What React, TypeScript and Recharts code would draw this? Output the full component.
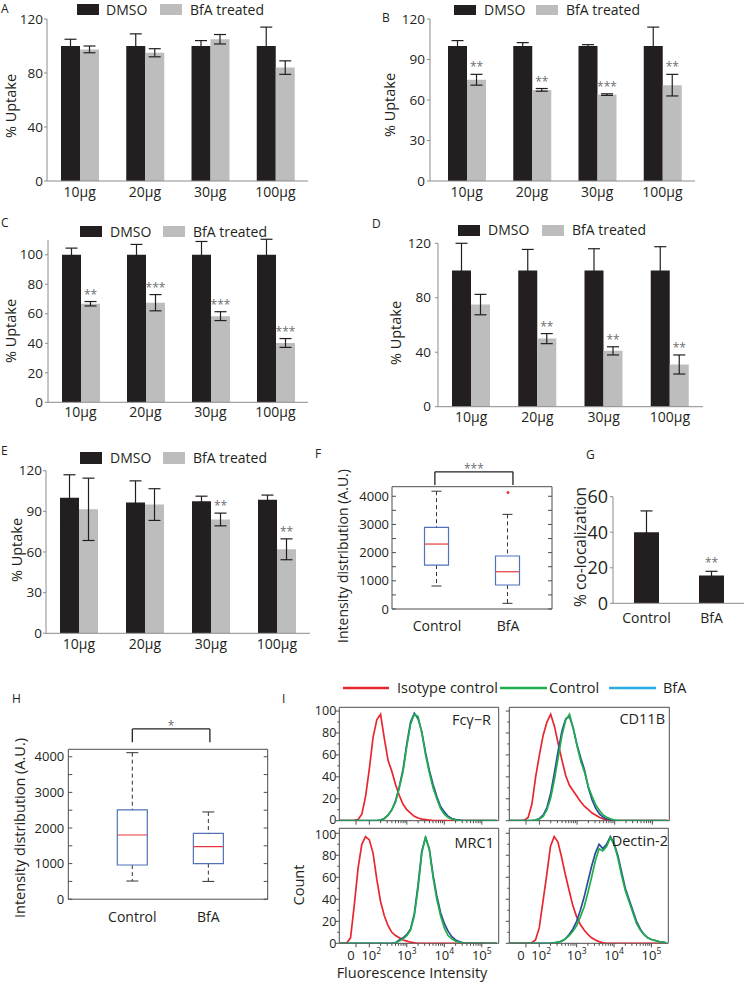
import React from "react";
import {
  BarChart, Bar, XAxis, YAxis, ErrorBar, LabelList, ComposedChart,
  LineChart, Line, ReferenceArea, ReferenceLine, ReferenceDot,
} from "recharts";

const FONT = "'Open Sans', 'Noto Sans', Arial, sans-serif";
const INK = "#231f20";
const AXIS = "#8c8c8c";
const FRAME = "#4d4d4d";
const DMSO_C = "#231f20";
const BFA_C = "#bdbdbd";
const STAR_C = "#6d6e71";
const BOX_C = "#4f72b8";
const MED_C = "#e8383d";
const ISO_C = "#e8262d";
const CTL_C = "#1fae4b";
const BFA_LINE = "#2c4b9b";
const BFA_LEG = "#29abe2";

// ---------- uptake bar panels ----------
const doseCats = ["10μg", "20μg", "30μg", "100μg"];

const aDmso = [100, 100, 100, 100];
const aDmsoErr = [5, 9, 4, 14];
const aBfa = [97.5, 95, 105, 84];
const aBfaErr = [2.5, 3, 3.5, 5];
const aStars = ["", "", "", ""];

const bDmso = [100, 100, 100, 100];
const bDmsoErr = [4, 2.5, 1, 14];
const bBfa = [75, 67.5, 64, 71];
const bBfaErr = [4, 1, 0.6, 8];
const bStars = ["**", "**", "***", "**"];

const cDmso = [100, 100, 100, 100];
const cDmsoErr = [4.5, 7, 9, 10.5];
const cBfa = [66.8, 67.5, 58.4, 40.2];
const cBfaErr = [1.5, 5.5, 3, 3];
const cStars = ["**", "***", "***", "***"];

const dDmso = [100, 100, 100, 100];
const dDmsoErr: any[] = [[25, 20], 15.5, 16, 17.5];
const dBfa = [75, 50, 41, 31];
const dBfaErr = [7.5, 3.7, 3, 7];
const dStars = ["", "**", "**", "**"];

const eDmso = [100, 96.5, 97.5, 98.5];
const eDmsoErr = [17, 16, 3.7, 3.5];
const eBfa = [91.5, 95, 84, 62];
const eBfaErr = [23, 11.7, 4.7, 7.7];
const eStars = ["", "", "**", "**"];

// ---------- panel G ----------
const gCats = ["Control", "BfA"];
const gVal = [40, 15.7];
const gErr = [12, 2.3];
const gStars = ["", "**"];

// ---------- box plots ----------
const boxNames = ["Control", "BfA"];
const boxPos = [1, 2];
const fMin = [816, 202];
const fQ1 = [1560, 851];
const fMed = [2305, 1323];
const fQ3 = [2897, 1880];
const fMax = [4180, 3358];
const fOutlier = [null, 4138];

const hMin = [510, 500];
const hQ1 = [960, 1000];
const hMed = [1803, 1475];
const hQ3 = [2506, 1850];
const hMax = [4115, 2450];
const hOutlier = [null, null];

const boxTicks = [0, 500, 1000, 1500, 2000, 2500, 3000, 3500, 4000];

// ---------- flow histograms ----------
const flowX = [1.2, 1.3, 1.4, 1.5, 1.6, 1.7, 1.8, 1.9, 2.0, 2.1, 2.2, 2.3, 2.4, 2.5, 2.6, 2.7, 2.8, 2.9, 3.0, 3.1, 3.2, 3.3, 3.4, 3.5, 3.6, 3.7, 3.8, 3.9, 4.0, 4.1, 4.2, 4.3, 4.4, 4.5, 4.6, 4.7, 4.8, 4.9, 5.0, 5.1, 5.2, 5.3, 5.4];

const fcIso = [0, 0, 0, 0, 0.3, 1, 6, 22, 47, 76, 92, 97, 75, 55, 45, 33, 23, 15, 10, 7, 4, 2.5, 1.5, 1, 0.5, 0, 0, 0, 0, 0, 0, 0, 0, 0, 0, 0, 0, 0, 0, 0, 0, 0, 0];
const fcCtl = [0, 0, 0, 0, 0, 0, 0, 0, 0, 0, 0, 0.5, 2, 5, 10, 17, 30, 45, 68, 88, 97, 95, 80, 60, 44, 30, 20, 11, 6, 3, 1.5, 0.5, 0, 0, 0, 0, 0, 0, 0, 0, 0, 0, 0];
const fcBfa = [0, 0, 0, 0, 0, 0, 0, 0, 0, 0, 0, 0.5, 2, 5, 10, 18, 31, 47, 70, 90, 98, 93, 81, 62, 46, 33, 22, 13, 8, 4, 2, 1, 0.5, 0, 0, 0, 0, 0, 0, 0, 0, 0, 0];

const cdIso = [0, 0, 0, 0, 0.5, 3, 15, 40, 60, 78, 90, 97, 86, 70, 55, 41, 32, 27, 22, 17, 13, 10, 7, 5, 3, 1.5, 0.5, 0, 0, 0, 0, 0, 0, 0, 0, 0, 0, 0, 0, 0, 0, 0, 0];
const cdCtl = [0, 0, 0, 0, 0, 0, 0, 0.5, 1.5, 4, 10, 21, 38, 58, 78, 92, 97, 84, 68, 54, 44, 31, 22, 14, 9, 5, 3, 1.5, 0.5, 0, 0, 0, 0, 0, 0, 0, 0, 0, 0, 0, 0, 0, 0];
const cdBfa = [0, 0, 0, 0, 0, 0, 0, 0.5, 2, 5, 12, 25, 44, 64, 82, 93, 95, 84, 69, 57, 46, 30, 19, 11, 6, 3, 1.5, 0.5, 0, 0, 0, 0, 0, 0, 0, 0, 0, 0, 0, 0, 0, 0, 0];

const mrIso = [0, 0, 0.5, 5, 35, 68, 90, 97, 94, 82, 58, 38, 25, 16, 10, 7, 5, 3, 2, 1, 0.5, 0, 0, 0, 0, 0, 0, 0, 0, 0, 0, 0, 0, 0, 0, 0, 0, 0, 0, 0, 0, 0, 0];
const mrCtl = [0, 0, 0, 0, 0, 0, 0, 0, 0, 0, 0, 0, 0, 0, 0, 0.5, 2, 4, 7, 12, 25, 50, 82, 97, 85, 60, 40, 25, 14, 7, 4, 2, 1, 0, 0, 0, 0, 0, 0, 0, 0, 0, 0];
const mrBfa = [0, 0, 0, 0, 0, 0, 0, 0, 0, 0, 0, 0, 0, 0, 0, 0.5, 3, 5, 8, 13, 27, 53, 84, 96, 86, 62, 43, 28, 18, 11, 6, 3, 1.5, 0.5, 0, 0, 0, 0, 0, 0, 0, 0, 0];

const deIso = [0, 0, 0, 0, 0, 0, 0.5, 3, 14, 38, 62, 88, 97, 92, 78, 62, 48, 34, 24, 17, 12, 8, 5, 3, 1.5, 0.5, 0, 0, 0, 0, 0, 0, 0, 0, 0, 0, 0, 0, 0, 0, 0, 0, 0];
const deCtl = [0, 0, 0, 0, 0, 0, 0, 0, 0, 0, 0, 0, 0.5, 1, 2, 4, 7, 11, 16, 24, 33, 46, 60, 75, 86, 84, 88, 96, 90, 78, 62, 48, 38, 28, 18, 12, 8, 5, 3.5, 2.5, 1.5, 1, 0.5];
const deBfa = [0, 0, 0, 0, 0, 0, 0, 0, 0, 0, 0, 0, 0.5, 1, 2, 4, 8, 13, 20, 30, 42, 56, 70, 82, 90, 86, 90, 97, 91, 80, 65, 50, 40, 30, 20, 13, 8, 5, 3.5, 2.5, 1.5, 1, 0.5];

const FLOW_DOM = [1.2, 5.45];
const flowMajor = [1.645, 2, 3, 4, 5];
const flowMajorBase = ["0", "10", "10", "10", "10"];
const flowMajorExp = ["", "2", "3", "4", "5"];
const flowMajorShift = [-5, 2, 0, 0, 0];
const flowMinor: number[] = [];
[2, 3, 4].forEach((d) => [2, 3, 4, 5, 6, 7, 8, 9].forEach((k) => flowMinor.push(d + Math.log10(k))));
const flowTicks = [...flowMajor, ...flowMinor];
const countTicks = [0, 10, 20, 30, 40, 50, 60, 70, 80, 90, 100];

// ---------- helpers ----------
type Rect = { x: number; y: number; w: number; h: number };
type PlotR = { l: number; r: number; t: number; b: number };
const mk = (box: Rect, plot: PlotR, yW: number, xH: number) => ({
  top: plot.t - box.y,
  left: plot.l - box.x - yW,
  right: box.x + box.w - plot.r,
  bottom: box.y + box.h - plot.b - xH,
});
const pos = (box: Rect): React.CSSProperties => ({ position: "absolute", left: box.x, top: box.y, width: box.w, height: box.h });

const makeRows = (dm: any[], dmE: any[], bf: any[], bfE: any[], st: string[]) =>
  doseCats.map((c, i) => ({ cat: c, dmso: dm[i], dmsoErr: dmE[i], bfa: bf[i], bfaErr: bfE[i], star: st[i] }));

const starLabel = (rows: any[], errKey: string, k: number, gap: number) => (props: any) => {
  const i = props.index;
  const row = rows[i];
  if (!row || !row.star) return null;
  const vb = props.viewBox || props;
  const e = Array.isArray(row[errKey]) ? row[errKey][1] : row[errKey];
  const cx = vb.x + vb.width / 2;
  const top = vb.y - e * k;
  return (
    <text x={cx} y={top - gap} textAnchor="middle" fontSize={12} fill={STAR_C} fontFamily={FONT}>
      {row.star}
    </text>
  );
};

const numYTick = (gap: number, fs: number) => (p: any) => {
  const { x, y, payload } = p;
  return (
    <g>
      <line x1={x - 3} x2={x} y1={y} y2={y} stroke={AXIS} />
      <text x={x - gap} y={y} dy="0.35em" textAnchor="end" fontSize={fs} fill={INK} fontFamily={FONT}>
        {payload.value}
      </text>
    </g>
  );
};

const catXTick = (dy: number, fs: number) => (p: any) => (
  <text x={p.x} y={p.y + dy} textAnchor="middle" fontSize={fs} fill={INK} fontFamily={FONT}>
    {p.payload.value}
  </text>
);

// ---------- uptake panel ----------
function UptakePanel(props: {
  rows: any[]; box: Rect; plot: PlotR; yMax: number; yTicks: number[]; gap: number; xDy: number; starGap?: number;
  padL?: number; padR?: number;
}) {
  const { rows, box, plot, yMax, yTicks, gap, xDy, starGap = 3, padL = 0, padR = 0 } = props;
  const yW = 40, xH = 20;
  const k = (plot.b - plot.t) / yMax;
  return (
    <div style={pos(box)}>
      <BarChart width={box.w} height={box.h} data={rows} margin={mk(box, plot, yW, xH)} barGap={0}>
        <XAxis dataKey="cat" height={xH} interval={0} tickSize={0} tickMargin={0} tickLine={false}
          axisLine={{ stroke: AXIS }} padding={{ left: padL, right: padR }} tick={catXTick(xDy, 14)} />
        <YAxis type="number" width={yW} domain={[0, yMax]} ticks={yTicks} interval={0} allowDataOverflow
          tickSize={0} tickMargin={0} tickLine={false} axisLine={{ stroke: AXIS }} tick={numYTick(gap, 13.5)} />
        <Bar dataKey="dmso" fill={DMSO_C} barSize={19} isAnimationActive={false}>
          <ErrorBar dataKey="dmsoErr" width={6} stroke={INK} strokeWidth={1.2} isAnimationActive={false} />
        </Bar>
        <Bar dataKey="bfa" fill={BFA_C} barSize={19} isAnimationActive={false}>
          <ErrorBar dataKey="bfaErr" width={6} stroke={INK} strokeWidth={1.2} isAnimationActive={false} />
          <LabelList dataKey="star" content={starLabel(rows, "bfaErr", k, starGap)} />
        </Bar>
      </BarChart>
    </div>
  );
}

// ---------- G panel ----------
function GPanel() {
  const box = { x: 580, y: 480, w: 165, h: 150 };
  const plot = { l: 613, r: 744, t: 496.7, b: 603.3 };
  const rows = gCats.map((c, i) => ({ cat: c, val: gVal[i], err: gErr[i], star: gStars[i] }));
  const yMax = 60;
  const k = (plot.b - plot.t) / yMax;
  return (
    <div style={pos(box)}>
      <BarChart width={box.w} height={box.h} data={rows} margin={mk(box, plot, 30, 24)}>
        <XAxis dataKey="cat" height={24} interval={0} tickSize={0} tickMargin={0} tickLine={false}
          axisLine={{ stroke: AXIS }} padding={{ left: 1, right: 0 }} tick={catXTick(20, 14)} />
        <YAxis type="number" width={30} domain={[0, yMax]} ticks={[0, 20, 40, 60]} interval={0} allowDataOverflow
          tickSize={0} tickMargin={0} tickLine={false} axisLine={{ stroke: AXIS }} tick={numYTick(5, 18)} />
        <Bar dataKey="val" fill={DMSO_C} barSize={25} isAnimationActive={false}>
          <ErrorBar dataKey="err" width={6} stroke={INK} strokeWidth={1.2} isAnimationActive={false} />
          <LabelList dataKey="star" content={starLabel(rows, "err", k, 4)} />
        </Bar>
      </BarChart>
    </div>
  );
}

// ---------- box panels ----------
const nothing = () => <g />;
const lowWhisker = (capW: number) => (p: any) => {
  const { x, y, width, height } = p;
  const cx = x + width / 2;
  return (
    <g>
      <line x1={cx} x2={cx} y1={y} y2={y + height} stroke="#333" strokeDasharray="4 3" />
      <line x1={cx - capW / 2} x2={cx + capW / 2} y1={y + height} y2={y + height} stroke="#333" />
    </g>
  );
};
const upWhisker = (capW: number) => (p: any) => {
  const { x, y, width, height } = p;
  const cx = x + width / 2;
  return (
    <g>
      <line x1={cx} x2={cx} y1={y} y2={y + height} stroke="#333" strokeDasharray="4 3" />
      <line x1={cx - capW / 2} x2={cx + capW / 2} y1={y} y2={y} stroke="#333" />
    </g>
  );
};
const boxLowShape = (p: any) => {
  const { x, y, width, height } = p;
  return (
    <g>
      <polyline points={`${x},${y} ${x},${y + height} ${x + width},${y + height} ${x + width},${y}`} fill="none" stroke={BOX_C} strokeWidth={1.2} />
      <line x1={x} x2={x + width} y1={y} y2={y} stroke={MED_C} strokeWidth={1.2} />
    </g>
  );
};
const boxUpShape = (p: any) => {
  const { x, y, width, height } = p;
  return (
    <polyline points={`${x},${y + height} ${x},${y} ${x + width},${y} ${x + width},${y + height}`} fill="none" stroke={BOX_C} strokeWidth={1.2} />
  );
};

const boxYTick = (plotW: number, fs: number, gap: number) => (p: any) => {
  const { x, y, payload } = p;
  const v = payload.value;
  return (
    <g>
      <line x1={x} x2={x + 4} y1={y} y2={y} stroke={FRAME} />
      <line x1={x + plotW - 4} x2={x + plotW} y1={y} y2={y} stroke={FRAME} />
      {v % 1000 === 0 ? (
        <text x={x - gap} y={y} dy="0.35em" textAnchor="end" fontSize={fs} fill={INK} fontFamily={FONT}>{v}</text>
      ) : null}
    </g>
  );
};

function BoxPanel(props: {
  box: Rect; plot: PlotR; xDom: number[]; yMax: number; mins: number[]; q1: number[]; med: number[]; q3: number[];
  maxs: number[]; outliers: (number | null)[]; barSize: number; capW: number; labelDy: number; tickFs: number; gap: number;
  bracket: { x1: number; x2: number; top: number; leg: number; starY: number; star: string };
}) {
  const { box, plot, xDom, yMax, mins, q1, med, q3, maxs, outliers, barSize, capW, labelDy, tickFs, gap, bracket } = props;
  const rows = boxNames.map((n, i) => ({
    pos: boxPos[i], name: n, base: mins[i], lowW: q1[i] - mins[i], boxLow: med[i] - q1[i], boxUp: q3[i] - med[i], upW: maxs[i] - q3[i],
  }));
  const plotW = plot.r - plot.l;
  return (
    <div style={pos(box)}>
      <ComposedChart width={box.w} height={box.h} data={rows} margin={mk(box, plot, 40, 25)}>
        <XAxis type="number" dataKey="pos" domain={xDom} ticks={boxPos} interval={0} allowDataOverflow height={25}
          axisLine={false} tickLine={false} tickSize={0} tickMargin={0}
          tick={(p: any) => (
            <text x={p.x} y={p.y + labelDy} textAnchor="middle" fontSize={14} fill={INK} fontFamily={FONT}>
              {boxNames[boxPos.indexOf(p.payload.value)]}
            </text>
          )} />
        <YAxis type="number" domain={[0, yMax]} ticks={boxTicks} interval={0} allowDataOverflow width={40}
          axisLine={false} tickLine={false} tickSize={0} tickMargin={0} tick={boxYTick(plotW, tickFs, gap)} />
        <ReferenceArea x1={xDom[0]} x2={xDom[1]} y1={0} y2={yMax} fill="none" stroke={FRAME} strokeWidth={1} ifOverflow="visible" />
        <Bar dataKey="base" stackId="b" barSize={barSize} shape={nothing} isAnimationActive={false} />
        <Bar dataKey="lowW" stackId="b" barSize={barSize} shape={lowWhisker(capW)} isAnimationActive={false} />
        <Bar dataKey="boxLow" stackId="b" barSize={barSize} shape={boxLowShape} isAnimationActive={false} />
        <Bar dataKey="boxUp" stackId="b" barSize={barSize} shape={boxUpShape} isAnimationActive={false} />
        <Bar dataKey="upW" stackId="b" barSize={barSize} shape={upWhisker(capW)} isAnimationActive={false} />
        {outliers.map((o, i) =>
          o == null ? null : (
            <ReferenceDot key={`o${i}`} x={boxPos[i]} y={o} r={1.5} fill={MED_C} stroke="none" ifOverflow="visible" />
          )
        )}
        <ReferenceLine segment={[{ x: bracket.x1, y: bracket.top }, { x: bracket.x2, y: bracket.top }]} stroke="#222" strokeWidth={1.3} ifOverflow="visible" />
        <ReferenceLine segment={[{ x: bracket.x1, y: bracket.top }, { x: bracket.x1, y: bracket.leg }]} stroke="#222" strokeWidth={1.3} ifOverflow="visible" />
        <ReferenceLine segment={[{ x: bracket.x2, y: bracket.top }, { x: bracket.x2, y: bracket.leg }]} stroke="#222" strokeWidth={1.3} ifOverflow="visible" />
        <ReferenceDot x={(bracket.x1 + bracket.x2) / 2} y={bracket.starY} r={0} ifOverflow="visible"
          shape={(p: any) => (
            <text x={p.cx} y={p.cy + 6} textAnchor="middle" fontSize={12} fill={STAR_C} fontFamily={FONT}>{bracket.star}</text>
          )} />
      </ComposedChart>
    </div>
  );
}

// ---------- histogram panels ----------
const flowXTick = (labels: boolean) => (p: any) => {
  const { x, y, payload } = p;
  const v = payload.value;
  const idx = flowMajor.indexOf(v);
  const major = idx >= 0;
  return (
    <g>
      <line x1={x} x2={x} y1={y} y2={y + (major ? 4 : 2.5)} stroke={FRAME} />
      {labels && major ? (
        <text x={x + flowMajorShift[idx]} y={y + 17} textAnchor="middle" fontSize={13} fill={INK} fontFamily={FONT}>
          {flowMajorBase[idx]}
          {flowMajorExp[idx] ? <tspan dy={-6} fontSize={8.5}>{flowMajorExp[idx]}</tspan> : null}
        </text>
      ) : null}
    </g>
  );
};
const countYTick = (labels: boolean, edgeShift: { v: number; d: number }) => (p: any) => {
  const { x, y, payload } = p;
  const v = payload.value;
  const major = v % 20 === 0;
  const dyShift = v === edgeShift.v ? edgeShift.d : 0;
  return (
    <g>
      <line x1={x - (major ? 3.5 : 2)} x2={x} y1={y} y2={y} stroke={FRAME} />
      {labels && major ? (
        <text x={x - 3} y={y + dyShift} dy="0.35em" textAnchor="end" fontSize={12.5} fill={INK} fontFamily={FONT}>{v}</text>
      ) : null}
    </g>
  );
};

function HistPanel(props: { box: Rect; plot: PlotR; yMax: number; iso: number[]; ctl: number[]; bfa: number[]; yLabels: boolean; xLabels: boolean }) {
  const { box, plot, yMax, iso, ctl, bfa, yLabels, xLabels } = props;
  const yW = yLabels ? 30 : 3;
  const xH = xLabels ? 22 : 3;
  const data = flowX.map((x, i) => ({ x, iso: iso[i], ctl: ctl[i], bfa: bfa[i] }));
  const edge = xLabels ? { v: 100, d: 1.5 } : { v: 0, d: -1.5 };
  return (
    <div style={pos(box)}>
      <LineChart width={box.w} height={box.h} data={data} margin={mk(box, plot, yW, xH)}>
        <XAxis type="number" dataKey="x" domain={FLOW_DOM} ticks={flowTicks} interval={0} allowDataOverflow height={xH}
          axisLine={false} tickLine={false} tickSize={0} tickMargin={0} tick={flowXTick(xLabels)} />
        <YAxis type="number" domain={[0, yMax]} ticks={countTicks} interval={0} allowDataOverflow width={yW}
          axisLine={false} tickLine={false} tickSize={0} tickMargin={0} tick={countYTick(yLabels, edge)} />
        <ReferenceArea x1={FLOW_DOM[0]} x2={FLOW_DOM[1]} y1={0} y2={yMax} fill="none" stroke={FRAME} strokeWidth={1} />
        <Line dataKey="iso" type="linear" stroke={ISO_C} strokeWidth={1.7} dot={false} isAnimationActive={false} />
        <Line dataKey="bfa" type="linear" stroke={BFA_LINE} strokeWidth={1.7} dot={false} isAnimationActive={false} />
        <Line dataKey="ctl" type="linear" stroke={CTL_C} strokeWidth={1.7} dot={false} isAnimationActive={false} />
      </LineChart>
    </div>
  );
}

// ---------- overlay text ----------
const T = (p: { x: number; y: number; s: number; c?: string; a?: string; children: any }) => (
  <text x={p.x} y={p.y} fontSize={p.s} fill={p.c || INK} textAnchor={(p.a as any) || "start"} fontFamily={FONT}>{p.children}</text>
);
const VT = (p: { x: number; y: number; s: number; children: any }) => (
  <text transform={`translate(${p.x},${p.y}) rotate(-90)`} textAnchor="middle" dominantBaseline="central" fontSize={p.s} fill={INK} fontFamily={FONT}>
    {p.children}
  </text>
);
const BarLegend = (p: { x1: number; x2: number; y: number; h: number; base: number; tx1: number; tx2: number }) => (
  <g>
    <rect x={p.x1} y={p.y} width={22} height={p.h} fill={DMSO_C} />
    <T x={p.tx1} y={p.base} s={14}>DMSO</T>
    <rect x={p.x2} y={p.y} width={22} height={p.h} fill={BFA_C} />
    <T x={p.tx2} y={p.base} s={14}>BfA treated</T>
  </g>
);

function Overlay() {
  return (
    <svg width={745} height={989} style={{ position: "absolute", left: 0, top: 0, pointerEvents: "none" }}>
      <T x={1} y={13} s={12}>A</T>
      <T x={382} y={22} s={12}>B</T>
      <T x={1} y={227} s={12}>C</T>
      <T x={372} y={228} s={12}>D</T>
      <T x={1} y={455} s={12}>E</T>
      <T x={315} y={458} s={12}>F</T>
      <T x={586} y={459} s={12}>G</T>
      <T x={12} y={703} s={12}>H</T>
      <T x={282} y={703} s={12}>I</T>

      <BarLegend x1={77} x2={160} y={4} h={11} base={15} tx1={106} tx2={190} />
      <BarLegend x1={454} x2={536} y={5} h={10} base={15} tx1={484} tx2={566} />
      <BarLegend x1={80} x2={163} y={226} h={11} base={237} tx1={110} tx2={193} />
      <BarLegend x1={458} x2={542} y={225} h={11} base={235} tx1={488} tx2={572} />
      <BarLegend x1={80} x2={163} y={452} h={12} base={463} tx1={110} tx2={193} />

      <VT x={10} y={106} s={14.5}>% Uptake</VT>
      <VT x={389} y={105} s={14.5}>% Uptake</VT>
      <VT x={10} y={331} s={14.5}>% Uptake</VT>
      <VT x={395} y={333} s={14.5}>% Uptake</VT>
      <VT x={16} y={550} s={14.5}>% Uptake</VT>
      <VT x={342} y={556} s={14}>Intensity distribution (A.U.)</VT>
      <VT x={580} y={547} s={15.5}>% co-localization</VT>
      <VT x={19} y={828} s={14.5}>Intensity distribution (A.U.)</VT>
      <VT x={298} y={885} s={14.5}>Count</VT>

      <line x1={343} x2={389} y1={688} y2={688} stroke={ISO_C} strokeWidth={2.5} />
      <T x={397} y={693} s={14.5}>Isotype control</T>
      <line x1={500} x2={547} y1={688} y2={688} stroke={CTL_C} strokeWidth={2.5} />
      <T x={549} y={693} s={14.5}>Control</T>
      <line x1={609} x2={656} y1={688} y2={688} stroke={BFA_LEG} strokeWidth={2.5} />
      <T x={663} y={693} s={14.5}>BfA</T>

      <T x={491} y={725} s={14.5} a="end">Fcγ−R</T>
      <T x={665} y={724} s={14.5} a="end">CD11B</T>
      <T x={494} y={848} s={14.5} a="end">MRC1</T>
      <T x={668} y={846} s={14.5} a="end">Dectin-2</T>
      <T x={412} y={978} s={14.5} a="middle">Fluorescence Intensity</T>
    </svg>
  );
}

export default function App() {
  return (
    <div style={{ position: "absolute", left: 0, top: 0, width: 745, height: 989, background: "#fff", fontFamily: FONT, overflow: "hidden" }}>
      <UptakePanel rows={makeRows(aDmso, aDmsoErr, aBfa, aBfaErr, aStars)} box={{ x: 0, y: 0, w: 320, h: 212 }}
        plot={{ l: 47, r: 308, t: 19, b: 181 }} yMax={120} yTicks={[0, 40, 80, 120]} gap={4} xDy={16} />
      <UptakePanel rows={makeRows(bDmso, bDmsoErr, bBfa, bBfaErr, bStars)} box={{ x: 370, y: 0, w: 340, h: 212 }}
        plot={{ l: 430, r: 695, t: 19, b: 181 }} yMax={120} yTicks={[0, 30, 60, 90, 120]} gap={5} xDy={16} padL={4} />
      <UptakePanel rows={makeRows(cDmso, cDmsoErr, cBfa, cBfaErr, cStars)} box={{ x: 0, y: 215, w: 320, h: 215 }}
        plot={{ l: 48, r: 308, t: 240, b: 402.3 }} yMax={110} yTicks={[0, 20, 40, 60, 80, 100]} gap={5} xDy={15} />
      <UptakePanel rows={makeRows(dDmso, dDmsoErr, dBfa, dBfaErr, dStars)} box={{ x: 370, y: 215, w: 345, h: 215 }}
        plot={{ l: 438, r: 703, t: 243.3, b: 406.7 }} yMax={120} yTicks={[0, 40, 80, 120]} gap={7} xDy={15} />
      <UptakePanel rows={makeRows(eDmso, eDmsoErr, eBfa, eBfaErr, eStars)} box={{ x: 0, y: 445, w: 320, h: 210 }}
        plot={{ l: 46, r: 310, t: 470.7, b: 633.3 }} yMax={120} yTicks={[0, 30, 60, 90, 120]} gap={4} xDy={16} />

      <BoxPanel box={{ x: 345, y: 455, w: 215, h: 185 }} plot={{ l: 392, r: 552, t: 486.7, b: 609 }} xDom={[0.366, 2.62]} yMax={4340}
        mins={fMin} q1={fQ1} med={fMed} q3={fQ3} maxs={fMax} outliers={fOutlier} barSize={24} capW={10} labelDy={22} tickFs={13} gap={3}
        bracket={{ x1: 0.97, x2: 2.07, top: 4869, leg: 4397, starY: 5050, star: "***" }} />
      <GPanel />
      <BoxPanel box={{ x: 20, y: 712, w: 260, h: 218 }} plot={{ l: 68.3, r: 267.7, t: 749.3, b: 899.2 }} xDom={[0.158, 2.78]} yMax={4210}
        mins={hMin} q1={hQ1} med={hMed} q3={hQ3} maxs={hMax} outliers={hOutlier} barSize={30} capW={12} labelDy={23} tickFs={13} gap={4}
        bracket={{ x1: 1, x2: 2.02, top: 4781, leg: 4407, starY: 4907, star: "*" }} />

      <HistPanel box={{ x: 300, y: 700, w: 205, h: 132 }} plot={{ l: 339.3, r: 498.7, t: 707.3, b: 820.7 }} yMax={103.4}
        iso={fcIso} ctl={fcCtl} bfa={fcBfa} yLabels={true} xLabels={false} />
      <HistPanel box={{ x: 505, y: 700, w: 170, h: 132 }} plot={{ l: 509.3, r: 669.3, t: 707.3, b: 820.7 }} yMax={103.4}
        iso={cdIso} ctl={cdCtl} bfa={cdBfa} yLabels={false} xLabels={false} />
      <HistPanel box={{ x: 300, y: 822, w: 205, h: 150 }} plot={{ l: 339.3, r: 498.7, t: 828.3, b: 943.3 }} yMax={104.5}
        iso={mrIso} ctl={mrCtl} bfa={mrBfa} yLabels={true} xLabels={true} />
      <HistPanel box={{ x: 505, y: 822, w: 170, h: 150 }} plot={{ l: 509.3, r: 668.3, t: 828.3, b: 943.3 }} yMax={104.5}
        iso={deIso} ctl={deCtl} bfa={deBfa} yLabels={false} xLabels={true} />

      <Overlay />
    </div>
  );
}
